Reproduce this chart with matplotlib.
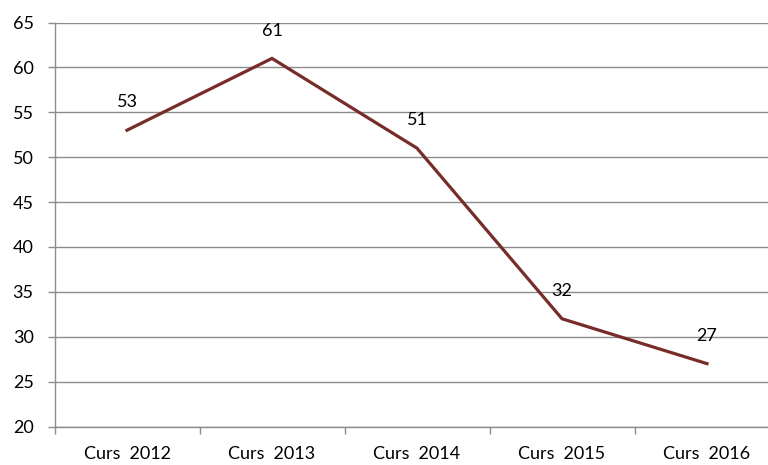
import matplotlib
matplotlib.use("Agg")
import matplotlib.pyplot as plt
import numpy as np

categories = ["Curs 2012", "Curs 2013", "Curs 2014", "Curs 2015", "Curs 2016"]
values = [53, 61, 51, 32, 27]
y_ticks = [20, 25, 30, 35, 40, 45, 50, 55, 60, 65]

plt.rcParams['font.family'] = ['Lato', 'DejaVu Sans']

fig = plt.figure(figsize=(7.68, 4.65), dpi=100)
W, H = 768, 465
left, right, top, bottom = 54.5, 779.5, 22.5, 426.5
ax = fig.add_axes([left / W, 1 - bottom / H, (right - left) / W, (bottom - top) / H])

x = np.arange(len(categories))
ax.plot(x, values, color="#772C2A", lw=2.3, solid_joinstyle="miter", zorder=3)

for xi, v in zip(x, values):
    ax.annotate(str(v), (xi, v), xytext=(0, 20), textcoords="offset points",
                ha="center", va="center", fontsize=13, color="black")

ax.set_xlim(-0.5, len(categories) - 0.5)
ax.set_ylim(20, 65)
ax.set_yticks(y_ticks)
ax.yaxis.grid(True, color="#8c8c8c", lw=1.0)
ax.set_axisbelow(True)

ax.set_xticks(x)
ax.set_xticks(np.arange(len(categories) + 1) - 0.5, minor=True)
# wider word gap in the category labels
ax.set_xticklabels([c.replace(" ", "\u2002") for c in categories], fontsize=13)
ax.tick_params(axis="x", which="major", length=0, pad=14)
ax.tick_params(axis="x", which="minor", length=5, color="#8c8c8c", width=1)
ax.tick_params(axis="y", length=5, color="#8c8c8c", width=1, pad=10, labelsize=13)

for s in ["top", "right"]:
    ax.spines[s].set_visible(False)
for s in ["left", "bottom"]:
    ax.spines[s].set_color("#8c8c8c")
    ax.spines[s].set_linewidth(1)

fig.savefig("out.png", dpi=100)
